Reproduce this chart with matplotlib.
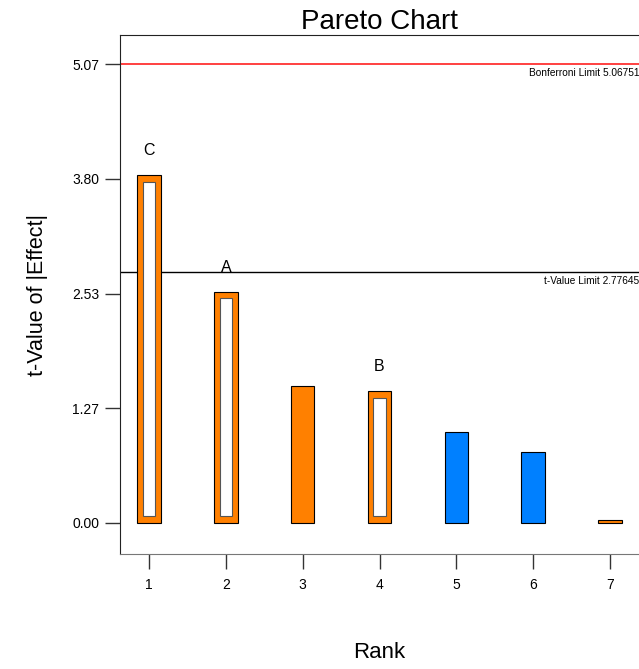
import matplotlib.pyplot as plt
import numpy as np

plt.rcParams['font.family'] = ['Liberation Sans', 'DejaVu Sans']

# data
rank = [1, 2, 3, 4, 5, 6, 7]
t_value = [3.84, 2.556, 1.517, 1.455, 1.002, 0.781, 0.033]
bar_color = ['#FF8000', '#FF8000', '#FF8000', '#FF8000', '#0080FF', '#0080FF', '#FF8000']
in_model = [True, True, False, True, False, False, False]
term = ['C', 'A', '', 'B', '', '', '']
t_limit = 2.77645
bonf_limit = 5.06751

fig = plt.figure(figsize=(6.39, 6.69), dpi=100)
ax = fig.add_axes([120/639, 1 - 554/669, 1 - 120/639, (554 - 35)/669])

w = 0.305
ax.bar(rank, t_value, width=w, color=bar_color, edgecolor='black', linewidth=0.8, zorder=2)

# model terms get a white inner box
dx, dy = 0.072, 0.075
for r, v, m in zip(rank, t_value, in_model):
    if m:
        ax.bar(r, v - 2*dy, bottom=dy, width=w - 2*dx, color='white',
               edgecolor='#555555', linewidth=0.8, zorder=3)

for r, v, s in zip(rank, t_value, term):
    if s:
        ax.text(r, v + 0.27, s, ha='center', va='center', fontsize=11.5, zorder=4)

ax.axhline(bonf_limit, color='#FF2020', linewidth=1.2, zorder=1)
ax.axhline(t_limit, color='black', linewidth=1.0, zorder=1)
ax.text(7.38, bonf_limit - 0.1, 'Bonferroni Limit 5.06751', ha='right', va='center', fontsize=7.3)
ax.text(7.38, t_limit - 0.1, 't-Value Limit 2.77645', ha='right', va='center', fontsize=7.3)

ax.set_xlim(0.62, 7.38)
ax.set_ylim(-0.343, 5.39)
ax.set_xticks(rank)
yt = np.linspace(0, bonf_limit, 5)
ax.set_yticks(yt)
ax.set_yticklabels(['%.2f' % v for v in yt])
ax.tick_params(axis='both', length=11, width=1, color='#333333', labelsize=10)
ax.tick_params(axis='y', pad=4)
ax.tick_params(axis='x', pad=6)

ax.spines['right'].set_visible(False)
for s in ['left', 'top']:
    ax.spines[s].set_color('#222222')
ax.spines['bottom'].set_color('#777777')

ax.set_title('Pareto Chart', fontsize=20, pad=3)
ax.set_xlabel('Rank', fontsize=16, labelpad=36)
ax.set_ylabel('t-Value of |Effect|', fontsize=15.5, labelpad=17)

plt.savefig('out.png', dpi=100)
